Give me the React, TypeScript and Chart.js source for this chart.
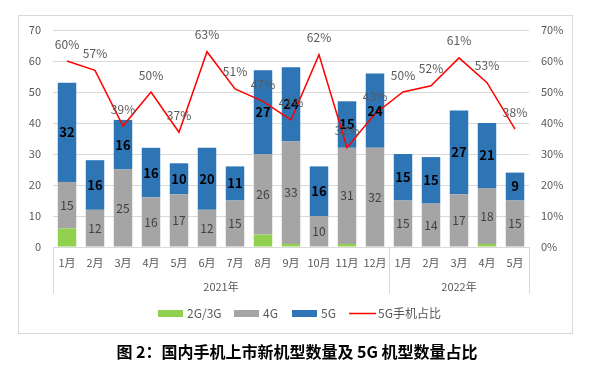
import React, { useEffect, useRef } from "react";
import { Chart, registerables } from "chart.js";

Chart.register(...registerables);

const months = ["1月", "2月", "3月", "4月", "5月", "6月", "7月", "8月", "9月", "10月", "11月", "12月", "1月", "2月", "3月", "4月", "5月"];
const yearLabels = ["2021年", "2022年"];
const yearStarts = [0, 12];
const yearEnds = [11, 16];
const series2g3g = [6, 0, 0, 0, 0, 0, 0, 4, 1, 0, 1, 0, 0, 0, 0, 1, 0];
const series4g = [15, 12, 25, 16, 17, 12, 15, 26, 33, 10, 31, 32, 15, 14, 17, 18, 15];
const series5g = [32, 16, 16, 16, 10, 20, 11, 27, 24, 16, 15, 24, 15, 15, 27, 21, 9];
const share5g = [60, 57, 39, 50, 37, 63, 51, 47, 41, 62, 32, 43, 50, 52, 61, 53, 38];
const legendNames = ["2G/3G", "4G", "5G", "5G手机占比"];
const title = "图 2：国内手机上市新机型数量及 5G 机型数量占比";

const GREEN = "#92d050";
const GRAY = "#a5a5a5";
const BLUE = "#2e75b6";
const RED = "#ff0000";
const TEXT = "#595959";
const GRID = "#d9d9d9";
const FONT = "'Noto Sans CJK SC', 'Noto Sans', sans-serif";

const decorPlugin = {
  id: "decor",
  beforeDraw(chart: any) {
    const ctx = chart.ctx;
    ctx.save();
    ctx.fillStyle = "#ffffff";
    ctx.fillRect(0, 0, chart.width, chart.height);
    ctx.strokeStyle = GRID;
    ctx.lineWidth = 1;
    ctx.strokeRect(18.5, 15.5, 554, 318);
    ctx.restore();
  },
  afterDatasetsDraw(chart: any) {
    const ctx = chart.ctx;
    ctx.save();
    ctx.textAlign = "center";
    ctx.textBaseline = "middle";
    const m4 = chart.getDatasetMeta(1);
    ctx.font = `12px ${FONT}`;
    ctx.fillStyle = "#404040";
    m4.data.forEach((el: any, i: number) => {
      const v = series4g[i];
      if (!v) return;
      ctx.fillText(String(v), el.x, (el.y + el.base) / 2);
    });
    const m5 = chart.getDatasetMeta(2);
    ctx.font = `bold 13px ${FONT}`;
    ctx.fillStyle = "#000000";
    m5.data.forEach((el: any, i: number) => {
      const v = series5g[i];
      if (!v) return;
      ctx.fillText(String(v), el.x, (el.y + el.base) / 2);
    });
    const ml = chart.getDatasetMeta(3);
    ctx.font = `12px ${FONT}`;
    ctx.fillStyle = TEXT;
    ml.data.forEach((el: any, i: number) => {
      ctx.fillText(share5g[i] + "%", el.x, el.y - 17);
    });
    ctx.restore();
  },
  afterDraw(chart: any) {
    const ctx = chart.ctx;
    const xs = chart.scales.x;
    const area = chart.chartArea;
    const half = (area.right - area.left) / months.length / 2;
    ctx.save();
    ctx.strokeStyle = GRID;
    ctx.lineWidth = 1;
    const bounds: number[] = [area.left];
    yearEnds.forEach((e) => bounds.push(xs.getPixelForValue(e) + half));
    bounds.forEach((bx) => {
      const x = Math.round(bx) + 0.5;
      ctx.beginPath();
      ctx.moveTo(x, area.bottom);
      ctx.lineTo(x, 294);
      ctx.stroke();
    });
    ctx.beginPath();
    ctx.moveTo(area.left, Math.round(area.bottom) + 0.5);
    ctx.lineTo(area.right, Math.round(area.bottom) + 0.5);
    ctx.stroke();
    ctx.font = `11px ${FONT}`;
    ctx.fillStyle = TEXT;
    ctx.textAlign = "center";
    ctx.textBaseline = "middle";
    yearLabels.forEach((lab, k) => {
      const l = xs.getPixelForValue(yearStarts[k]) - half;
      const r = xs.getPixelForValue(yearEnds[k]) + half;
      ctx.fillText(lab, (l + r) / 2, 287);
    });
    const ly = 313.5;
    ctx.font = `12px ${FONT}`;
    ctx.textAlign = "left";
    const items = [
      { x: 158, color: GREEN, type: "box" },
      { x: 234, color: GRAY, type: "box" },
      { x: 292, color: BLUE, type: "box" },
      { x: 349, color: RED, type: "line" },
    ];
    items.forEach((it, k) => {
      if (it.type === "box") {
        ctx.fillStyle = it.color;
        ctx.fillRect(it.x, ly - 3.5, 25, 7);
      } else {
        ctx.strokeStyle = it.color;
        ctx.lineWidth = 1.5;
        ctx.beginPath();
        ctx.moveTo(it.x, ly);
        ctx.lineTo(it.x + 27, ly);
        ctx.stroke();
      }
      ctx.fillStyle = TEXT;
      ctx.fillText(legendNames[k], it.x + 29, ly);
    });
    ctx.font = `bold 16px ${FONT}`;
    ctx.fillStyle = "#000000";
    ctx.textAlign = "center";
    ctx.fillText(title, 297, 352);
    ctx.restore();
  },
};

export default function App() {
  const ref = useRef<HTMLCanvasElement | null>(null);
  useEffect(() => {
    if (!ref.current) return;
    const chart = new Chart(ref.current, {
      type: "bar",
      data: {
        labels: months,
        datasets: [
          { label: legendNames[0], data: series2g3g, backgroundColor: GREEN, stack: "s", order: 1, barPercentage: 0.66, categoryPercentage: 1 } as any,
          { label: legendNames[1], data: series4g, backgroundColor: GRAY, stack: "s", order: 1, barPercentage: 0.66, categoryPercentage: 1 } as any,
          { label: legendNames[2], data: series5g, backgroundColor: BLUE, stack: "s", order: 1, barPercentage: 0.66, categoryPercentage: 1 } as any,
          { type: "line", label: legendNames[3], data: share5g, borderColor: RED, backgroundColor: RED, borderWidth: 1.5, pointRadius: 0, tension: 0, yAxisID: "y1", order: 0 } as any,
        ],
      },
      options: {
        responsive: false,
        animation: false,
        layout: { padding: { top: 30, left: 0, right: 0, bottom: 0 } },
        plugins: { legend: { display: false }, tooltip: { enabled: false } },
        scales: {
          x: {
            stacked: true,
            grid: { display: false, drawTicks: false },
            border: { display: false },
            ticks: { color: TEXT, font: { size: 11, family: FONT }, padding: 9, autoSkip: false, maxRotation: 0 },
            afterFit: (s: any) => { s.height = 120; },
          },
          y: {
            stacked: true,
            min: 0,
            max: 70,
            position: "left",
            grid: { color: GRID, drawTicks: false },
            border: { display: false },
            ticks: { stepSize: 10, color: TEXT, font: { size: 11, family: FONT }, padding: 12 },
            afterFit: (s: any) => { s.width = 53; },
          },
          y1: {
            min: 0,
            max: 70,
            position: "right",
            grid: { display: false, drawTicks: false },
            border: { display: false },
            ticks: { stepSize: 10, color: TEXT, font: { size: 11, family: FONT }, padding: 12, callback: (v: any) => v + "%" },
            afterFit: (s: any) => { s.width = 66; },
          },
        },
      } as any,
      plugins: [decorPlugin],
    });
    return () => chart.destroy();
  }, []);
  return (
    <div style={{ position: "fixed", left: 0, top: 0, width: 595, height: 367, background: "#fff" }}>
      <canvas ref={ref} width={595} height={367} style={{ display: "block" }} />
    </div>
  );
}
